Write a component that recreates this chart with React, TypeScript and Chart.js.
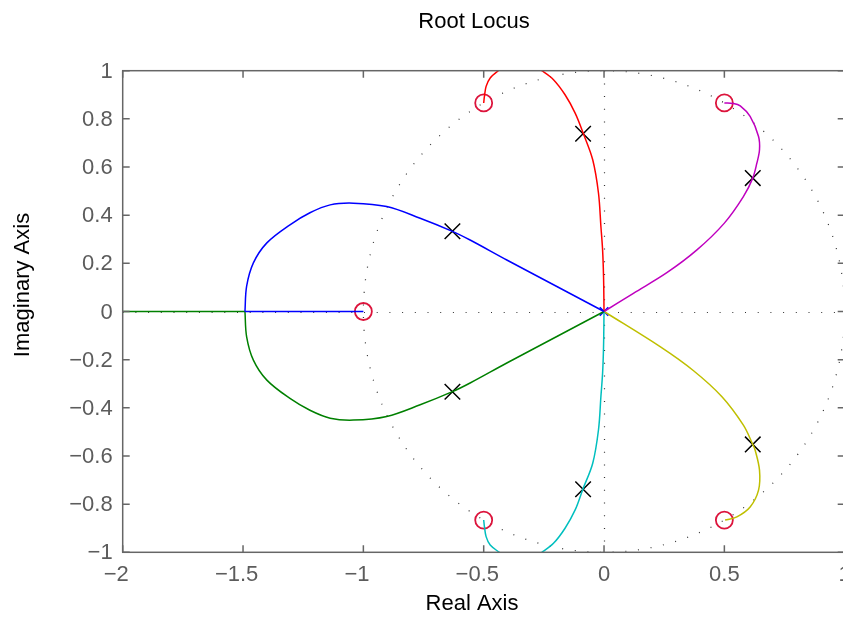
import React, { useEffect, useRef } from "react";
import { Chart, registerables } from "chart.js";

Chart.register(...registerables);

// ---- Axis ticks ----
const xTickValues = [-2, -1.5, -1, -0.5, 0, 0.5, 1];
const yTickValues = [-1, -0.8, -0.6, -0.4, -0.2, 0, 0.2, 0.4, 0.6, 0.8, 1];

// ---- Branch data (real, imaginary) ----
const blueX = [0, -0.2, -0.404, -0.5565, -0.63, -0.764, -0.903, -1.0416, -1.138, -1.222, -1.305, -1.401, -1.457, -1.485, -1.492];
const blueY = [0, 0.106, 0.214, 0.297, 0.333, 0.3875, 0.4358, 0.4499, 0.4428, 0.41, 0.36, 0.285, 0.2017, 0.105, 0];
const blueAxisX = [-1.492, -1.0];
const blueAxisY = [0, 0];

const greenX = [0, -0.2, -0.404, -0.5565, -0.63, -0.764, -0.903, -1.0416, -1.138, -1.222, -1.305, -1.401, -1.457, -1.485, -1.492];
const greenY = [0, -0.106, -0.214, -0.297, -0.333, -0.3875, -0.4358, -0.451, -0.443, -0.41, -0.361, -0.285, -0.2017, -0.105, 0];
const greenAxisX = [-1.492, -2.0];
const greenAxisY = [0, 0];

const redX = [0, -0.002, -0.006, -0.013, -0.023, -0.047, -0.0856, -0.12, -0.162, -0.21, -0.2585, -0.3, -0.35, -0.4, -0.439, -0.473, -0.49, -0.497, -0.5];
const redY = [0, 0.145, 0.256, 0.353, 0.491, 0.63, 0.738, 0.824, 0.9, 0.9626, 1.0, 1.025, 1.035, 1.025, 1.0, 0.97, 0.935, 0.893, 0.866];

const cyanX = [0, -0.002, -0.006, -0.013, -0.023, -0.047, -0.088, -0.12, -0.162, -0.21, -0.2585, -0.3, -0.35, -0.4, -0.435, -0.473, -0.49, -0.497, -0.5];
const cyanY = [0, -0.145, -0.256, -0.353, -0.491, -0.63, -0.738, -0.824, -0.9, -0.9626, -1.0, -1.025, -1.035, -1.025, -1.0, -0.97, -0.935, -0.893, -0.866];

const magentaX = [0, 0.122, 0.261, 0.386, 0.5, 0.579, 0.618, 0.635, 0.646, 0.642, 0.607, 0.566, 0.538, 0.5];
const magentaY = [0, 0.0757, 0.161, 0.2557, 0.367, 0.477, 0.554, 0.616, 0.6715, 0.727, 0.81, 0.854, 0.864, 0.866];

const yellowX = [0, 0.233, 0.372, 0.49, 0.579, 0.618, 0.628, 0.646, 0.642, 0.607, 0.552, 0.503];
const yellowY = [0, -0.146, -0.246, -0.354, -0.472, -0.552, -0.576, -0.659, -0.742, -0.812, -0.853, -0.866];

// ---- Markers ----
const zeroX = [-1, -0.5, -0.5, 0.5, 0.5];
const zeroY = [0, 0.866, -0.866, 0.866, -0.866];
const poleX = [-0.63, -0.63, -0.087, -0.087, 0.618, 0.618];
const poleY = [0.333, -0.333, 0.738, -0.738, 0.554, -0.552];
const openPoleX = [0];
const openPoleY = [0];

const pts = (xs: number[], ys: number[]) => xs.map((x, i) => ({ x, y: ys[i] }));

const fmt = (v: number) => {
  const s = String(Math.round(Math.abs(v) * 10) / 10);
  return { neg: v < 0, num: s };
};

const FONT = '"Liberation Sans", Arial, Helvetica, sans-serif';

const decorPlugin = {
  id: "decor",
  beforeDatasetsDraw(chart: any) {
    const { ctx, chartArea: a, scales } = chart;
    const xs = scales.x;
    const ys = scales.y;
    ctx.save();
    ctx.beginPath();
    ctx.rect(a.left, a.top, a.right - a.left, a.bottom - a.top);
    ctx.clip();
    ctx.strokeStyle = "#333333";
    ctx.lineWidth = 1.2;
    ctx.setLineDash([1, 11.7]);
    const cx = xs.getPixelForValue(0);
    const cy = ys.getPixelForValue(0);
    const rx = xs.getPixelForValue(1) - cx;
    const ry = cy - ys.getPixelForValue(1);
    ctx.beginPath();
    ctx.ellipse(cx, cy, rx, ry, 0, 0, Math.PI * 2);
    ctx.stroke();
    ctx.beginPath();
    ctx.moveTo(a.left, Math.round(cy) + 0.5);
    ctx.lineTo(a.right, Math.round(cy) + 0.5);
    ctx.stroke();
    ctx.beginPath();
    ctx.moveTo(Math.round(cx) + 0.5, a.top);
    ctx.lineTo(Math.round(cx) + 0.5, a.bottom);
    ctx.stroke();
    ctx.restore();
  },
  afterDraw(chart: any) {
    const { ctx, chartArea: a, scales } = chart;
    const xs = scales.x;
    const ys = scales.y;
    ctx.save();
    ctx.strokeStyle = "#666666";
    ctx.lineWidth = 1.5;
    ctx.setLineDash([]);
    ctx.strokeRect(a.left, a.top, a.right - a.left, a.bottom - a.top);
    const tl = 7;
    ctx.beginPath();
    xTickValues.forEach((v) => {
      const p = xs.getPixelForValue(v);
      ctx.moveTo(p, a.bottom);
      ctx.lineTo(p, a.bottom - tl);
      ctx.moveTo(p, a.top);
      ctx.lineTo(p, a.top + tl);
    });
    yTickValues.forEach((v) => {
      const p = ys.getPixelForValue(v);
      ctx.moveTo(a.left, p);
      ctx.lineTo(a.left + tl, p);
      ctx.moveTo(a.right, p);
      ctx.lineTo(a.right - tl, p);
    });
    ctx.stroke();

    ctx.fillStyle = "#5c5c5c";
    ctx.font = `22px ${FONT}`;
    ctx.textBaseline = "middle";
    xTickValues.forEach((v) => {
      const p = xs.getPixelForValue(v);
      const { neg, num } = fmt(v);
      const w = ctx.measureText(num).width;
      ctx.textAlign = "left";
      ctx.fillText(num, p - w / 2, a.bottom + 23);
      if (neg) {
        ctx.textAlign = "right";
        ctx.fillText("\u2212", p - w / 2, a.bottom + 23);
      }
    });
    ctx.textAlign = "right";
    yTickValues.forEach((v) => {
      const p = ys.getPixelForValue(v);
      const { neg, num } = fmt(v);
      ctx.fillText((neg ? "\u2212" : "") + num, a.left - 10, p + 1);
    });

    ctx.fillStyle = "#000000";
    ctx.textAlign = "center";
    ctx.fillText("Root Locus", 474, 22);
    ctx.fillText("Real Axis", 472, 604);
    ctx.translate(23, 285);
    ctx.rotate(-Math.PI / 2);
    ctx.fillText("Imaginary Axis", 0, 0);
    ctx.restore();
  },
};

export default function App() {
  const ref = useRef<HTMLCanvasElement | null>(null);

  useEffect(() => {
    if (!ref.current) return;
    const line = (xs: number[], ys: number[], color: string, tension = 0.35) => ({
      type: "scatter" as const,
      data: pts(xs, ys),
      showLine: true,
      borderColor: color,
      backgroundColor: color,
      borderWidth: 1.5,
      pointRadius: 0,
      tension,
    });
    const chart = new Chart(ref.current, {
      type: "scatter",
      data: {
        datasets: [
          line(blueX, blueY, "#0000ff"),
          line(blueAxisX, blueAxisY, "#0000ff", 0),
          line(greenX, greenY, "#008000"),
          line(greenAxisX, greenAxisY, "#008000", 0),
          line(redX, redY, "#ff0000"),
          line(cyanX, cyanY, "#00bfbf"),
          line(magentaX, magentaY, "#bf00bf"),
          line(yellowX, yellowY, "#bfbf00"),
          {
            data: pts(zeroX, zeroY),
            pointStyle: "circle",
            pointRadius: 8.5,
            borderColor: "#dc143c",
            backgroundColor: "rgba(0,0,0,0)",
            borderWidth: 1.8,
          },
          {
            data: pts(poleX, poleY),
            pointStyle: "crossRot",
            pointRadius: 11,
            borderColor: "#000000",
            backgroundColor: "#000000",
            borderWidth: 1.5,
          },
          {
            data: pts(openPoleX, openPoleY),
            pointStyle: "crossRot",
            pointRadius: 6,
            borderColor: "#0000ff",
            backgroundColor: "#0000ff",
            borderWidth: 1.5,
          },
        ],
      },
      options: {
        responsive: false,
        animation: false,
        events: [],
        layout: { padding: { left: 0, top: 70.7, right: 25.3, bottom: 0 } },
        plugins: {
          legend: { display: false },
          title: { display: false },
          tooltip: { enabled: false },
        },
        scales: {
          x: {
            type: "linear",
            min: -2,
            max: 1,
            ticks: { display: false },
            grid: { display: false },
            border: { display: false },
            afterFit: (s: any) => {
              s.height = 617 - 552.3;
            },
          },
          y: {
            type: "linear",
            min: -1,
            max: 1,
            ticks: { display: false },
            grid: { display: false },
            border: { display: false },
            afterFit: (s: any) => {
              s.width = 122.7;
            },
          },
        },
      },
      plugins: [decorPlugin],
    } as any);
    return () => chart.destroy();
  }, []);

  return (
    <div
      style={{
        position: "fixed",
        left: 0,
        top: 0,
        width: 843,
        height: 617,
        overflow: "hidden",
        background: "#ffffff",
      }}
    >
      <canvas ref={ref} width={870} height={617} style={{ width: 870, height: 617, display: "block" }} />
    </div>
  );
}
